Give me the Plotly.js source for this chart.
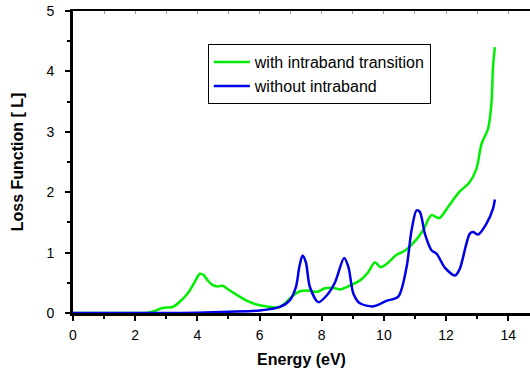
<!DOCTYPE html>
<html><head><meta charset="utf-8">
<script src="https://cdn.plot.ly/plotly-3.0.1.min.js"></script>
<style>html,body{margin:0;padding:0;background:#fff}#c{width:530px;height:369px}</style>
</head><body><div id="c"></div>
<script>
const greenName = "with intraband transition";
const blueName = "without intraband";
const greenX = [0,1,2,2.4,2.6,2.8,3.0,3.2,3.4,3.7,3.9,4.08,4.2,4.35,4.5,4.65,4.81,5.0,5.3,5.6,5.9,6.2,6.65,7.08,7.3,7.6,7.84,8.11,8.43,8.59,8.8,9.23,9.5,9.71,9.89,10.08,10.4,10.67,11.05,11.26,11.53,11.78,12.07,12.42,12.75,12.98,13.14,13.35,13.46,13.51,13.57];
const greenY = [0,0,0,0.005,0.03,0.07,0.09,0.1,0.17,0.33,0.5,0.65,0.63,0.53,0.46,0.44,0.45,0.39,0.29,0.2,0.14,0.11,0.1,0.29,0.36,0.37,0.35,0.41,0.41,0.39,0.43,0.54,0.68,0.84,0.76,0.81,0.96,1.03,1.22,1.37,1.62,1.57,1.76,2.0,2.16,2.39,2.8,3.05,3.47,4.07,4.4];
const blueX = [0,2,3,4,5,6,6.65,6.97,7.17,7.28,7.38,7.49,7.62,7.89,8.16,8.43,8.72,8.86,9.02,9.23,9.66,10.08,10.46,10.73,10.89,11.05,11.16,11.32,11.53,11.7,11.96,12.29,12.44,12.76,12.87,13.03,13.3,13.51,13.57];
const blueY = [0,0,0,0.005,0.02,0.04,0.1,0.21,0.43,0.76,0.95,0.84,0.43,0.18,0.29,0.51,0.91,0.76,0.32,0.16,0.11,0.2,0.27,0.76,1.37,1.7,1.67,1.31,1.04,0.98,0.75,0.62,0.73,1.31,1.34,1.3,1.48,1.73,1.88];

const tickFont = {family: "Liberation Sans, Arial, sans-serif", size: 14, color: "#000"};
const titleFont = {family: "Liberation Sans, Arial, sans-serif", size: 16, color: "#000", weight: "bold"};

const data = [
  {x: greenX, y: greenY, name: greenName, mode: "lines", line: {color: "#00ee00", width: 2.5, shape: "spline", smoothing: 0.8}},
  {x: blueX, y: blueY, name: blueName, mode: "lines", line: {color: "#0000e6", width: 2.5, shape: "spline", smoothing: 0.8}},
  {x: [0], y: [0], xaxis: "x2", showlegend: false, hoverinfo: "skip", mode: "none"}
];
const layout = {
  width: 530, height: 369,
  margin: {l: 73, r: 0, t: 11, b: 56},
  paper_bgcolor: "#fff", plot_bgcolor: "#fff",
  showlegend: true,
  legend: {x: 0.295, y: 0.89, xanchor: "left", yanchor: "top", bgcolor: "#fff", bordercolor: "#000", borderwidth: 1,
           font: {family: "Liberation Sans, Arial, sans-serif", size: 16, color: "#000"}, tracegroupgap: 0, itemwidth: 36},
  xaxis: {range: [0, 14.7], showgrid: false, zeroline: false, showline: true, linecolor: "#000", linewidth: 2.5,
          ticks: "outside", ticklen: 5, tickwidth: 2, tickcolor: "#000", dtick: 2, tick0: 0, tickfont: tickFont,
          ticklabelstandoff: 3,
          minor: {dtick: 1, ticks: "outside", ticklen: 3, tickwidth: 2, tickcolor: "#000"},
          title: {text: "Energy (eV)", font: titleFont, standoff: 12}},
  xaxis2: {range: [0, 14.7], overlaying: "x", side: "top", showgrid: false, zeroline: false, showline: true, linecolor: "#000", linewidth: 2.5,
           ticks: "inside", ticklen: 3, tickwidth: 1, tickcolor: "#999", dtick: 1, showticklabels: false},
  yaxis: {range: [0, 5], showgrid: false, zeroline: false, showline: true, linecolor: "#000", linewidth: 3,
          ticks: "outside", ticklen: 5, tickwidth: 2, tickcolor: "#000", dtick: 1, tickfont: tickFont,
          ticklabelstandoff: 8,
          minor: {dtick: 0.5, ticks: "outside", ticklen: 3, tickwidth: 2, tickcolor: "#000"},
          title: {text: "Loss Function [ L]", font: titleFont, standoff: 19}}
};
Plotly.newPlot("c", data, layout, {displayModeBar: false, staticPlot: true});
</script></body></html>
